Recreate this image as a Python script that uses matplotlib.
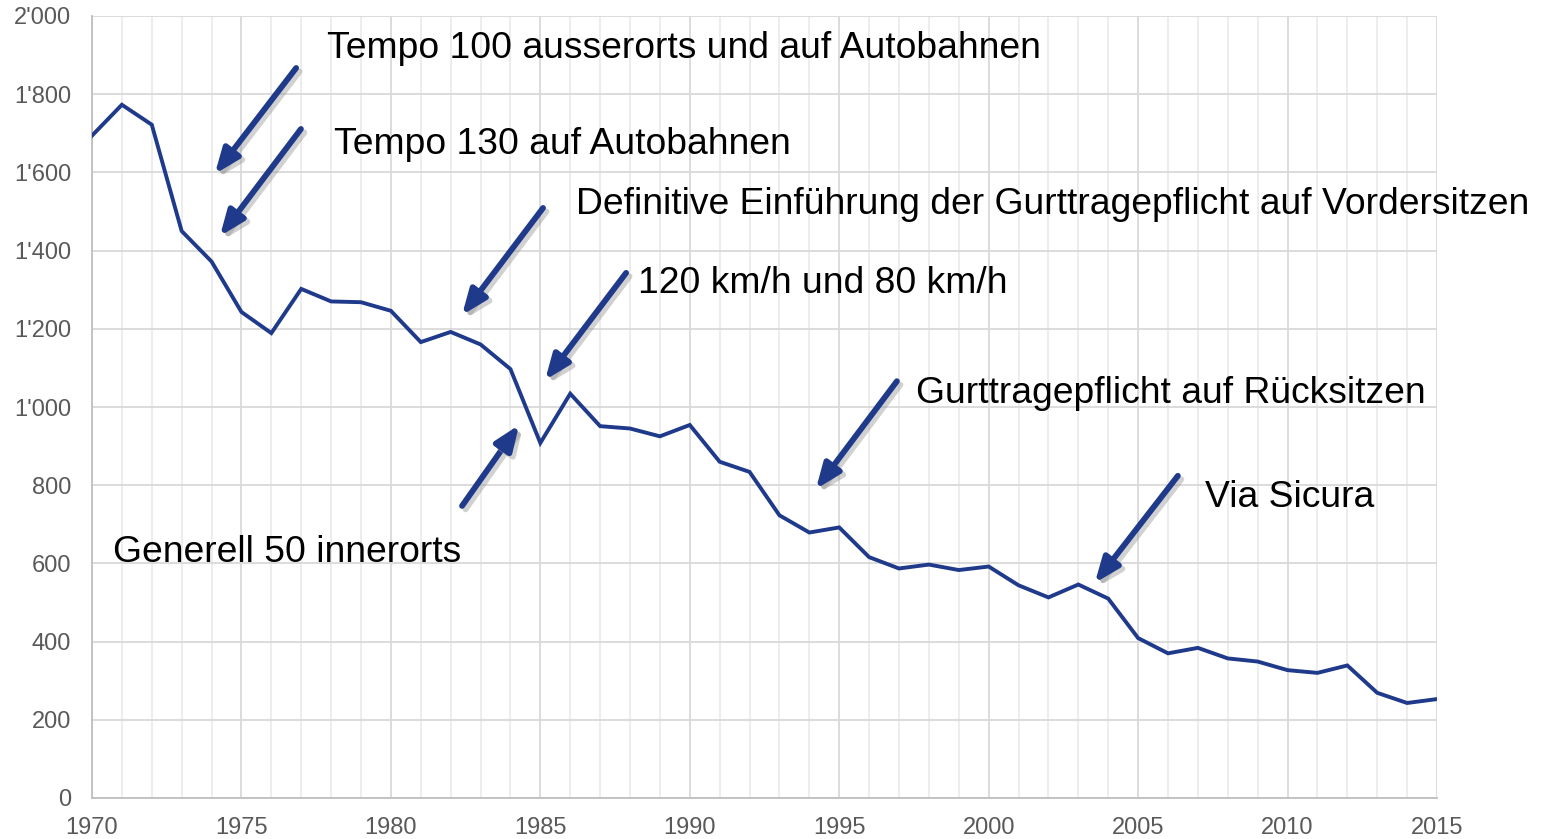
import matplotlib
matplotlib.use("Agg")
import matplotlib.pyplot as plt
import matplotlib.patheffects as pe
from matplotlib.ticker import FuncFormatter, MultipleLocator

plt.rcParams['font.family'] = ['Liberation Sans', 'DejaVu Sans']

years = list(range(1970, 2016))
deaths = [1694, 1773, 1722, 1450, 1372, 1243, 1189, 1302, 1270, 1268,
          1246, 1166, 1192, 1160, 1097, 908, 1034, 951, 945, 925,
          954, 860, 834, 723, 679, 692, 616, 587, 597, 583,
          592, 544, 513, 546, 510, 409, 370, 384, 357, 349,
          327, 320, 339, 269, 243, 253]

annotations = [
    "Tempo 100 ausserorts und auf Autobahnen",
    "Tempo 130 auf Autobahnen",
    "Definitive Einführung der Gurttragepflicht auf Vordersitzen",
    "120 km/h und 80 km/h",
    "Gurttragepflicht auf Rücksitzen",
    "Via Sicura",
    "Generell 50 innerorts",
]
label_xy = [(1977.86, 1918), (1978.10, 1672), (1986.19, 1519), (1988.27, 1317),
            (1997.57, 1035), (2007.24, 769), (1970.70, 629)]
arrow_tail = [(1976.83, 1867), (1976.99, 1711), (1985.09, 1509), (1987.87, 1343),
              (1996.93, 1066), (2006.33, 824), (1982.38, 747)]
arrow_head = [(1974.11, 1596), (1974.28, 1437), (1982.38, 1235), (1985.16, 1069),
              (1994.22, 790), (2003.55, 550), (1984.29, 954)]

blue = '#1f3a8a'

fig = plt.figure(figsize=(15.45, 8.39), dpi=100)
ax = fig.add_axes([92/1545, 1-798/839, (1437-92)/1545, (798-16)/839])

ax.set_xlim(1970, 2015)
ax.set_ylim(0, 2000)
ax.xaxis.set_major_locator(MultipleLocator(5))
ax.xaxis.set_minor_locator(MultipleLocator(1))
ax.yaxis.set_major_locator(MultipleLocator(200))
ax.grid(which='major', axis='both', color='#d9d9d9', lw=1.3)
ax.grid(which='minor', axis='x', color='#ececec', lw=1.3)
ax.set_axisbelow(True)

ax.yaxis.set_major_formatter(FuncFormatter(lambda v, p: f"{int(v):,}".replace(",", "'")))
ax.tick_params(axis='both', which='both', length=0, labelsize=17, colors='#595959')
ax.tick_params(axis='x', pad=14)
ax.tick_params(axis='y', pad=15)

for s in ['top', 'right']:
    ax.spines[s].set_visible(False)
for s in ['left', 'bottom']:
    ax.spines[s].set_color('#bfbfbf')
    ax.spines[s].set_linewidth(1.3)

ax.plot(years, deaths, color=blue, lw=2.8, solid_joinstyle='miter', zorder=3)

for txt, (tx, ty) in zip(annotations, label_xy):
    ax.text(tx, ty, txt, fontsize=26.8, color='black', ha='left', va='center', zorder=4)

for (hx, hy), (sx, sy) in zip(arrow_head, arrow_tail):
    ax.annotate('', xy=(hx, hy), xytext=(sx, sy),
                arrowprops=dict(arrowstyle='-|>,head_length=1.5,head_width=0.6',
                                color=blue, lw=4.2, shrinkA=0, shrinkB=0,
                                path_effects=[pe.SimpleLineShadow(offset=(2.5, -2.5), shadow_color='#999999', alpha=0.45),
                                              pe.Normal()]),
                zorder=5)

fig.savefig('out.png', dpi=100)
